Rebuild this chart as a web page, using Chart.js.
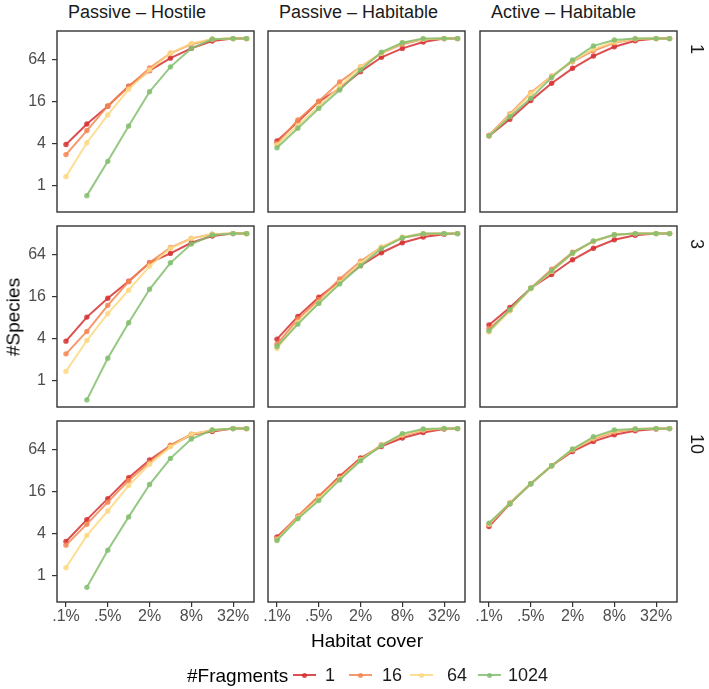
<!DOCTYPE html>
<html>
<head>
<meta charset="utf-8">
<script src="https://cdn.jsdelivr.net/npm/chart.js@4.4.0/dist/chart.umd.min.js"></script>
<style>
body { margin: 0; background: #fff; font-family: 'Liberation Sans', Arial, sans-serif; }
#wrap { position: relative; width: 709px; height: 689px; overflow: hidden; background: #fff; }
#wrap canvas { position: absolute; }
.txt { position: absolute; white-space: nowrap; line-height: 1; }
</style>
</head>
<body>
<div id="wrap"></div>
<script>
// habitat cover (%) on x, #species on y, both log2
var xCover = [0.125, 0.25, 0.5, 1, 2, 4, 8, 16, 32, 50];
var xTickValues = [0.125, 0.5, 2, 8, 32];
var xTickLabels = ['.1%', '.5%', '2%', '8%', '32%'];
var yTickValues = [1, 4, 16, 64];
var yTickLabels = ['1', '4', '16', '64'];

var fragments = ['1', '16', '64', '1024'];
var fragmentColors = ['rgba(214,48,49,0.85)', 'rgba(243,135,82,0.85)', 'rgba(253,216,130,0.85)', 'rgba(131,190,110,0.85)'];
var movementTypes = ['Passive \u2013 Hostile', 'Passive \u2013 Habitable', 'Active \u2013 Habitable'];
var rowLabels = ['1', '3', '10'];

// each panel: one row per #Fragments (1, 16, 64, 1024)
var hostile_1 = [
  [3.9, 7.7, 13.9, 27, 45, 68, 94, 120, 130, 130],
  [2.8, 6.2, 14, 26.5, 49, 80, 108, 127, 130, 130],
  [1.35, 4.15, 10.4, 24.3, 46, 80, 111, 127, 130, 130],
  [null, 0.72, 2.24, 7.2, 22.4, 51, 94, 127, 130, 130]
];
var habitable_1 = [
  [4.4, 8.3, 16.1, 25, 43.5, 70, 94, 116, 130, 130],
  [4.06, 8.8, 16.4, 31, 51, 80, 108, 127, 130, 130],
  [3.85, 7.4, 13.9, 26.5, 51, 80, 113, 127, 130, 130],
  [3.5, 6.7, 12.9, 23.7, 46, 83, 113, 130, 130, 130]
];
var active_1 = [
  [5.2, 9.0, 16.7, 29.6, 48.6, 73, 99, 121, 130, 130],
  [5.3, 10.7, 21.7, 37.7, 60.5, 87, 113, 128, 130, 130],
  [5.2, 10.4, 21, 37, 62, 92, 116, 129, 130, 130],
  [5.2, 9.8, 18, 36, 64, 102, 124, 130, 130, 130]
];
var hostile_3 = [
  [3.7, 8.2, 15.3, 26.9, 49.4, 67.5, 96, 120, 130, 130],
  [2.43, 5.1, 12.1, 26.5, 50, 82, 111, 127, 130, 130],
  [1.36, 3.78, 9.2, 20, 44, 80, 111, 127, 130, 130],
  [null, 0.53, 2.1, 6.8, 20.6, 49.4, 92, 124, 130, 130]
];
var habitable_3 = [
  [3.95, 8.4, 15.8, 26.6, 45, 69, 96, 116, 127, 130],
  [3.34, 7.7, 14.6, 29, 52, 83, 113, 127, 130, 130],
  [2.9, 6.9, 13.2, 25.8, 49, 83, 116, 130, 130, 130],
  [3.1, 6.5, 12.9, 24.6, 45, 79, 113, 130, 130, 130]
];
var active_3 = [
  [6.3, 11.3, 21.3, 33.6, 54.6, 80, 106, 123, 130, 130],
  [5.6, 10.2, 21.3, 40, 70, 100, 125, 130, 130, 130],
  [5.0, 10, 21, 37, 67, 101, 125, 130, 130, 130],
  [5.2, 10.5, 21.3, 38, 68, 102, 125, 130, 130, 130]
];
var hostile_10 = [
  [3.1, 6.4, 12.8, 25.5, 46, 74, 106, 118, 130, 130],
  [2.75, 5.5, 11.4, 23.3, 42.5, 75, 108, 123, 130, 130],
  [1.3, 3.8, 8.5, 19.7, 40, 71, 108, 123, 130, 130],
  [null, 0.68, 2.33, 7, 20.4, 48.5, 92, 124, 130, 130]
];
var habitable_10 = [
  [3.6, 7, 13.8, 26.9, 49, 72, 95, 114, 128, 130],
  [3.4, 7.2, 14, 25.5, 47, 76, 103, 122, 130, 130],
  [3.3, 6.8, 12.8, 24.5, 46, 75, 106, 125, 130, 130],
  [3.2, 6.6, 12, 23.8, 45, 74, 110, 128, 130, 130]
];
var active_10 = [
  [5.1, 10.8, 20.9, 38, 61, 85, 106, 121, 128, 130],
  [5.5, 11.2, 21, 38, 64, 92, 116, 127, 130, 130],
  [5.5, 11, 21, 38, 65, 95, 120, 128, 130, 130],
  [5.7, 10.8, 20.9, 38, 66, 99, 124, 128, 130, 130]
];

var panels = [
  [hostile_1, habitable_1, active_1],
  [hostile_3, habitable_3, active_3],
  [hostile_10, habitable_10, active_10]
];

var FONT = "'Liberation Sans', Arial, sans-serif";
var colLeft = [57, 268, 480];
var rowTop = [31, 226, 421];
var panelW = 197, panelH = 181;
var PAD = 8, Y_AXIS_W = 45, X_AXIS_H = 30;

var wrap = document.getElementById('wrap');

var panelBorder = {
  id: 'panelBorder',
  afterDraw: function(chart) {
    var a = chart.chartArea, ctx = chart.ctx;
    ctx.save();
    ctx.strokeStyle = '#333';
    ctx.lineWidth = 1.4;
    ctx.strokeRect(a.left, a.top, a.right - a.left, a.bottom - a.top);
    ctx.restore();
  }
};

function addText(str, left, top, size, color, extra) {
  var d = document.createElement('div');
  d.className = 'txt';
  d.textContent = str;
  d.style.left = left + 'px';
  d.style.top = top + 'px';
  d.style.fontSize = size + 'px';
  d.style.color = color;
  if (extra) Object.assign(d.style, extra);
  wrap.appendChild(d);
  return d;
}

function makePanel(r, c) {
  var showY = c === 0, showX = r === 2;
  var left = colLeft[c] - (showY ? Y_AXIS_W : PAD);
  var top = rowTop[r] - PAD;
  var w = panelW + (showY ? Y_AXIS_W : PAD) + PAD;
  var h = panelH + PAD + (showX ? X_AXIS_H : PAD);

  var cv = document.createElement('canvas');
  cv.width = w; cv.height = h;
  cv.style.left = left + 'px'; cv.style.top = top + 'px';
  cv.style.width = w + 'px'; cv.style.height = h + 'px';
  wrap.appendChild(cv);

  var series = panels[r][c];
  var datasets = fragments.map(function(f, k) {
    return {
      label: f,
      data: xCover.map(function(x, i) { return { x: x, y: series[k][i] }; }),
      borderColor: fragmentColors[k],
      backgroundColor: fragmentColors[k],
      borderWidth: 2,
      pointRadius: 2.7,
      pointBorderWidth: 0,
      tension: 0,
      clip: false,
      order: 3 - k
    };
  });

  new Chart(cv.getContext('2d'), {
    type: 'line',
    data: { datasets: datasets },
    options: {
      responsive: false,
      animation: false,
      events: [],
      layout: { padding: { left: showY ? 0 : PAD, right: PAD, top: PAD, bottom: showX ? 0 : PAD } },
      plugins: { legend: { display: false }, tooltip: { enabled: false } },
      scales: {
        x: {
          type: 'logarithmic',
          min: Math.pow(2, -3.43),
          max: Math.pow(2, 6.0),
          display: showX,
          afterBuildTicks: function(s) { s.ticks = xTickValues.map(function(v) { return { value: v }; }); },
          afterFit: function(s) {
            s.height = showX ? X_AXIS_H : 0;
            s.paddingLeft = 0; s.paddingRight = 0;
          },
          border: { display: false },
          grid: { display: true, drawOnChartArea: false, tickLength: 5, color: '#333', lineWidth: 1.2 },
          ticks: {
            autoSkip: false, maxRotation: 0, padding: 0, color: '#4d4d4d',
            font: { family: FONT, size: 16 },
            callback: function(v, i) { return xTickLabels[i]; }
          }
        },
        y: {
          type: 'logarithmic',
          min: Math.pow(2, -1.255),
          max: Math.pow(2, 7.384),
          display: showY,
          afterBuildTicks: function(s) { s.ticks = yTickValues.map(function(v) { return { value: v }; }); },
          afterFit: function(s) {
            s.width = showY ? Y_AXIS_W : 0;
            s.paddingTop = 0; s.paddingBottom = 0;
          },
          border: { display: false },
          grid: { display: true, drawOnChartArea: false, tickLength: 5, color: '#333', lineWidth: 1.2 },
          ticks: {
            autoSkip: false, padding: 6, color: '#4d4d4d',
            font: { family: FONT, size: 16 },
            callback: function(v, i) { return yTickLabels[i]; }
          }
        }
      }
    },
    plugins: [panelBorder]
  });
}

for (var r = 0; r < 3; r++) {
  for (var c = 0; c < 3; c++) makePanel(r, c);
}

// strip labels
movementTypes.forEach(function(m, c) {
  addText(m, colLeft[c] + 11, 3, 18, '#1a1a1a');
});
rowLabels.forEach(function(l, r) {
  addText(l, 688, rowTop[r] + 13, 18, '#1a1a1a', { writingMode: 'vertical-rl', width: '18px' });
});

// axis titles
addText('Habitat cover', 367, 640, 19, '#000', { transform: 'translate(-50%, -50%)' });
addText('#Species', 13, 317, 19, '#000', { transform: 'translate(-50%, -50%) rotate(-90deg)' });

// legend
addText('#Fragments', 187, 675, 19, '#000', { transform: 'translateY(-50%)' });
var keyLeft = [293, 349, 410, 478];
var labelLeft = [325, 382, 447, 508];
fragments.forEach(function(f, k) {
  var ln = document.createElement('div');
  ln.style.cssText = 'position:absolute;height:2px;width:23px;left:' + keyLeft[k] + 'px;top:' + 674 + 'px;background:' + fragmentColors[k];
  wrap.appendChild(ln);
  var dot = document.createElement('div');
  dot.style.cssText = 'position:absolute;width:5px;height:5px;border-radius:50%;left:' + (keyLeft[k] + 9) + 'px;top:' + 672.5 + 'px;background:' + fragmentColors[k];
  wrap.appendChild(dot);
  addText(f, labelLeft[k], 675, 18, '#1a1a1a', { transform: 'translateY(-50%)' });
});
</script>
</body>
</html>
